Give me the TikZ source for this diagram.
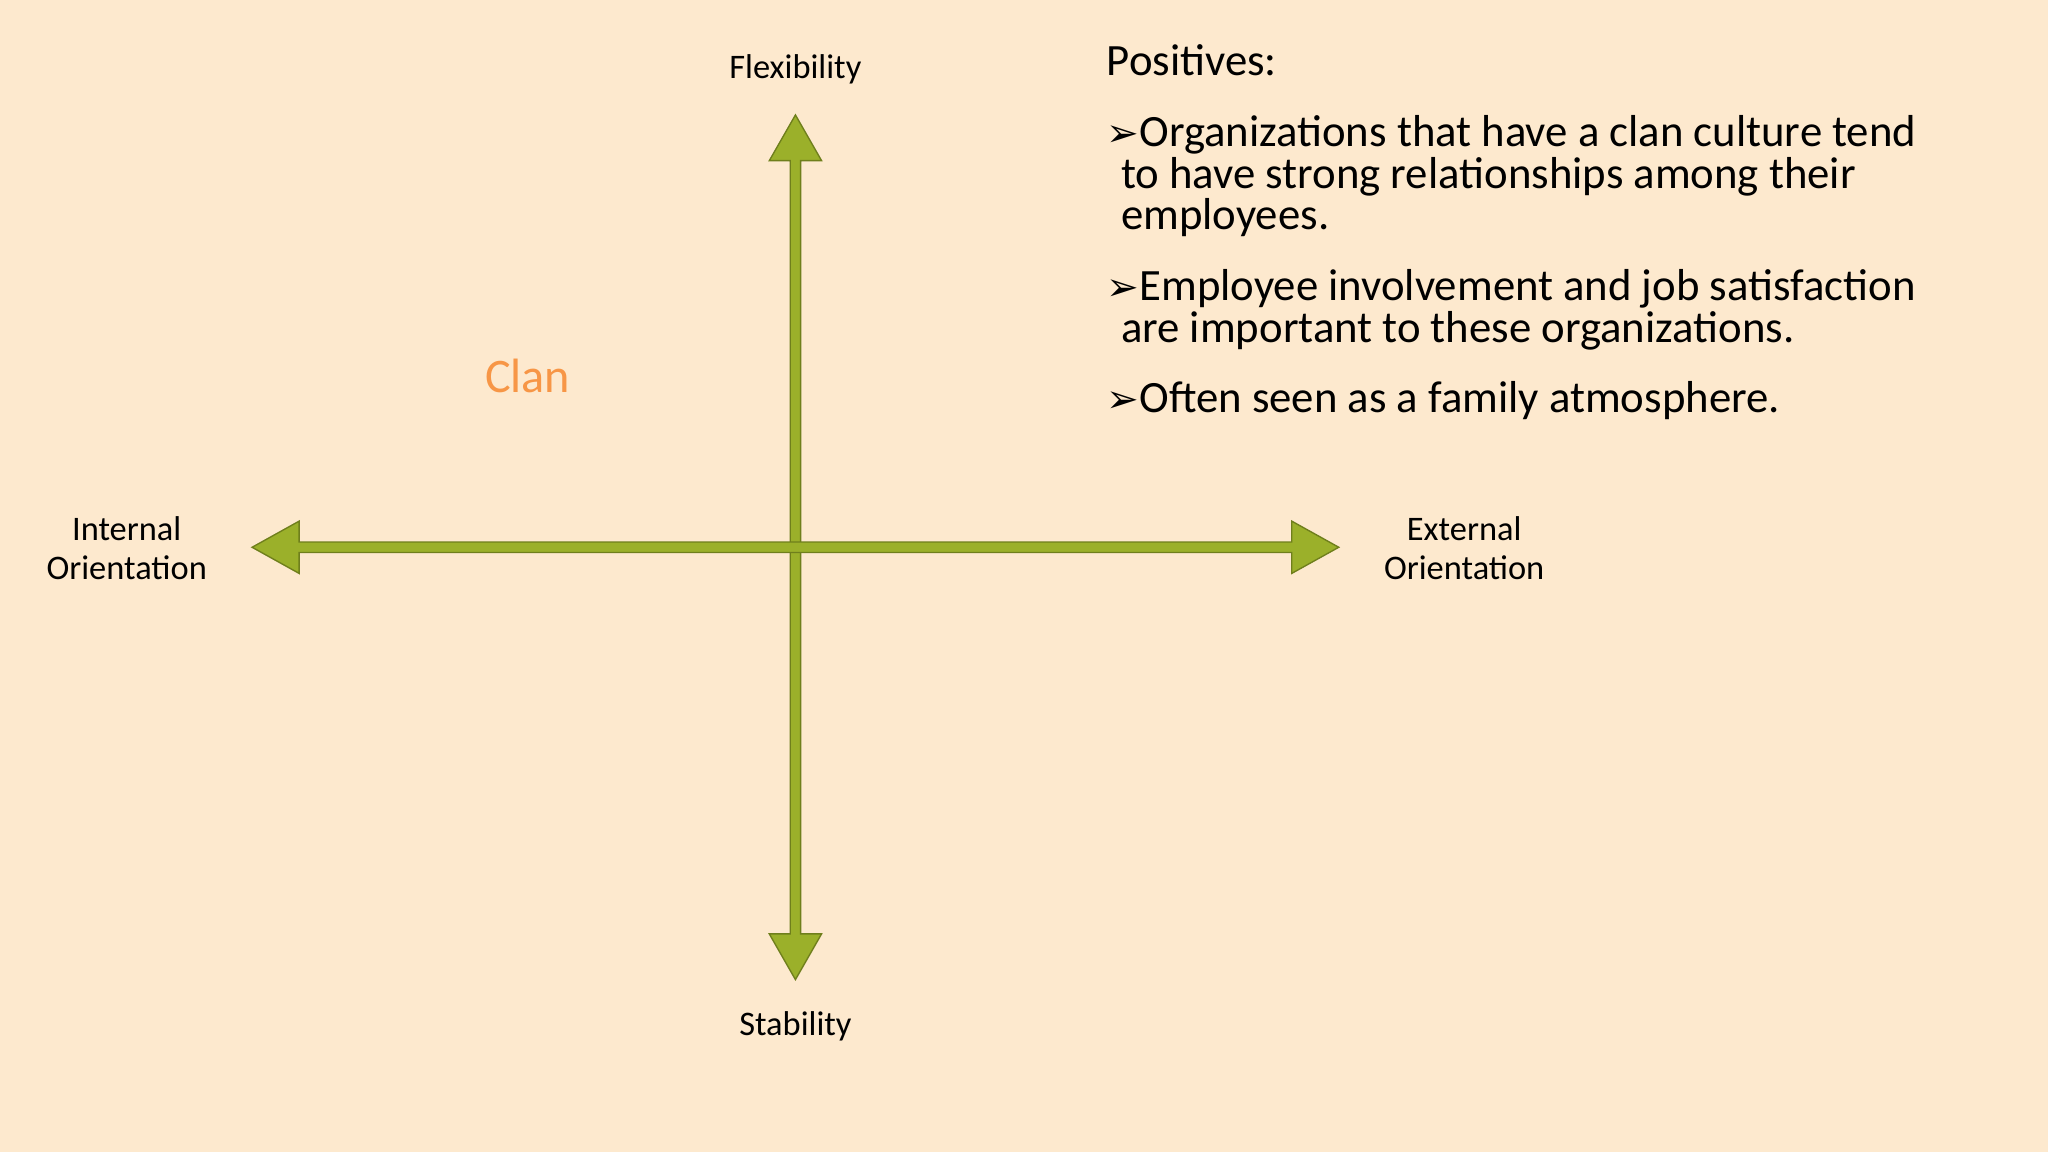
\documentclass[tikz,border=0pt]{standalone}
\usepackage{fontspec}
\setmainfont{Carlito}
\newfontfamily\dv{DejaVu Sans}
\definecolor{bg}{HTML}{FDE9CE}
\definecolor{olive}{HTML}{9BB02A}
\definecolor{olived}{HTML}{6F7F1C}
\definecolor{clan}{HTML}{F79646}
\begin{document}
\begin{tikzpicture}[x=0.02cm,y=-0.02cm,
  lbl/.style={font=\fontsize{15}{18}\selectfont,align=center,text=black,inner sep=0},
  body/.style={font=\fontsize{19.5}{23}\selectfont,anchor=base west,inner sep=0,text=black},
  arrowshape/.style={fill=olive,draw=olived,line width=0.6pt,line join=miter}]
\fill[bg] (0,0) rectangle (1568,882);
\useasboundingbox (0,0) rectangle (1568,882);
% vertical arrow
\path[arrowshape] (609,88) -- (629,123) -- (613,123) -- (613,715) -- (629,715) -- (609,750)
  -- (589,715) -- (605,715) -- (605,123) -- (589,123) -- cycle;
% horizontal arrow
\path[arrowshape] (193,419) -- (229,399) -- (229,415) -- (989,415) -- (989,399) -- (1025,419)
  -- (989,439) -- (989,423) -- (229,423) -- (229,439) -- cycle;
\node[lbl] (flex) at (609,53) {Flexibility};
\node[lbl] (stab) at (609,786) {Stability};
\node[lbl] (int) at (97,420) {Internal\\[-1pt]Orientation};
\node[lbl] (ext) at (1121,420) {External\\[-1pt]Orientation};
\node[font=\fontsize{21}{24}\selectfont,text=clan,inner sep=0] (clanl) at (404,288) {Clan};
\node[body] (pos) at (847,58) {Positives:};
\node[body] (b1) at (847,112) {{\dv\fontsize{17}{20}\selectfont ➢}Organizations that have a clan culture tend};
\node[body] (b1b) at (858,144) {to have strong relationships among their};
\node[body] (b1c) at (858,176) {employees.};
\node[body] (b2) at (847,230) {{\dv\fontsize{17}{20}\selectfont ➢}Employee involvement and job satisfaction};
\node[body] (b2b) at (858,262) {are important to these organizations.};
\node[body] (b3) at (847,316) {{\dv\fontsize{17}{20}\selectfont ➢}Often seen as a family atmosphere.};
\end{tikzpicture}
\end{document}
